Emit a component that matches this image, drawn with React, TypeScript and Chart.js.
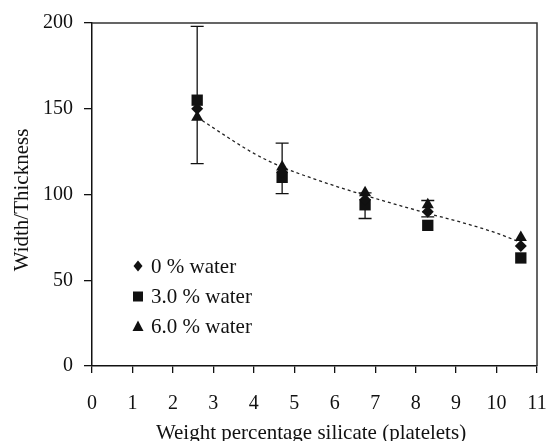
import React, { useEffect, useRef } from "react";
import { Chart, registerables } from "chart.js";

Chart.register(...registerables);

const xValues = [2.6, 4.7, 6.75, 8.3, 10.6];
const water0 = [150, 113, 97, 90, 70];
const water3 = [155, 110, 94, 82, 63];
const water6 = [145, 116, 101, 94, 75];
const errUpper = [198, 130, 101, 96.5, null];
const errLower = [118, 100.5, 86, 87, null];
const trendX = [2.6, 4.0, 4.7, 5.5, 6.75, 8.3, 9.1, 10.0, 10.6];
const trendY = [145, 124, 116, 109, 99.5, 89, 84, 77.5, 72];
const legendLabels = ["0 % water", "3.0 % water", "6.0 % water"];
const xTicks = [0, 1, 2, 3, 4, 5, 6, 7, 8, 9, 10, 11];
const yTicks = [0, 50, 100, 150, 200];
const xTitle = "Weight percentage silicate (platelets)";
const yTitle = "Width/Thickness";

const FONT = "'Liberation Serif', 'Times New Roman', serif";

function drawMarker(ctx: CanvasRenderingContext2D, kind: string, x: number, y: number) {
  ctx.beginPath();
  if (kind === "diamond") {
    ctx.moveTo(x, y - 5.5);
    ctx.lineTo(x + 4.5, y);
    ctx.lineTo(x, y + 5.5);
    ctx.lineTo(x - 4.5, y);
  } else if (kind === "square") {
    ctx.rect(x - 5, y - 5, 10, 10);
  } else {
    ctx.moveTo(x, y - 6);
    ctx.lineTo(x + 5.5, y + 4.5);
    ctx.lineTo(x - 5.5, y + 4.5);
  }
  ctx.closePath();
  ctx.fill();
}

const customPlugin = {
  id: "custom",
  beforeDatasetsDraw(chart: any) {
    const ctx = chart.ctx;
    const xs = chart.scales.x;
    const ys = chart.scales.y;
    ctx.save();
    ctx.strokeStyle = "#111";
    ctx.lineWidth = 1.3;
    xValues.forEach((xv, i) => {
      const hi = errUpper[i];
      const lo = errLower[i];
      if (hi == null || lo == null) return;
      const px = xs.getPixelForValue(xv);
      const py1 = ys.getPixelForValue(hi);
      const py2 = ys.getPixelForValue(lo);
      ctx.beginPath();
      ctx.moveTo(px, py1);
      ctx.lineTo(px, py2);
      ctx.moveTo(px - 6.5, py1);
      ctx.lineTo(px + 6.5, py1);
      ctx.moveTo(px - 6.5, py2);
      ctx.lineTo(px + 6.5, py2);
      ctx.stroke();
    });
    ctx.restore();
  },
  afterDraw(chart: any) {
    const ctx = chart.ctx;
    const a = chart.chartArea;
    ctx.save();
    ctx.strokeStyle = "#333";
    ctx.lineWidth = 1.5;
    ctx.beginPath();
    ctx.moveTo(a.left, a.top);
    ctx.lineTo(a.right, a.top);
    ctx.lineTo(a.right, a.bottom);
    ctx.stroke();
    // legend
    const kinds = ["diamond", "square", "triangle"];
    const rowY = [266, 296.5, 326.5];
    ctx.fillStyle = "#111";
    ctx.font = "21px " + FONT;
    ctx.textBaseline = "middle";
    ctx.textAlign = "left";
    legendLabels.forEach((label, i) => {
      drawMarker(ctx, kinds[i], 138, rowY[i]);
      ctx.fillText(label, 151, rowY[i] + 1);
    });
    // axis titles
    ctx.textAlign = "center";
    ctx.textBaseline = "middle";
    ctx.fillText(xTitle, 311, 433);
    ctx.translate(22, 200);
    ctx.rotate(-Math.PI / 2);
    ctx.fillText(yTitle, 0, 0);
    ctx.restore();
  },
};

export default function App() {
  const canvasRef = useRef<HTMLCanvasElement | null>(null);

  useEffect(() => {
    document.body.style.margin = "0";
    const canvas = canvasRef.current;
    if (!canvas) return;
    const pts = (ys: number[]) => xValues.map((x, i) => ({ x, y: ys[i] }));
    const chart = new Chart(canvas, {
      type: "scatter",
      data: {
        datasets: [
          {
            label: legendLabels[0],
            data: pts(water0),
            pointStyle: "rectRot",
            pointRadius: 6,
            backgroundColor: "#111",
            borderColor: "#111",
            borderWidth: 0,
          },
          {
            label: legendLabels[2],
            data: pts(water6),
            pointStyle: "triangle",
            pointRadius: 7,
            backgroundColor: "#111",
            borderColor: "#111",
            borderWidth: 0,
          },
          {
            label: legendLabels[1],
            data: pts(water3),
            pointStyle: "rect",
            pointRadius: 8,
            backgroundColor: "#111",
            borderColor: "#111",
            borderWidth: 0,
          },
          {
            label: "trend",
            type: "line",
            data: trendX.map((x, i) => ({ x, y: trendY[i] })),
            showLine: true,
            pointRadius: 0,
            borderColor: "#222",
            borderWidth: 1.3,
            borderDash: [3, 3],
            cubicInterpolationMode: "monotone",
            fill: false,
          } as any,
        ],
      },
      options: {
        animation: false,
        responsive: false,
        maintainAspectRatio: false,
        layout: { padding: { left: 0, top: 20, right: 14, bottom: 0 } },
        plugins: {
          legend: { display: false },
          tooltip: { enabled: false },
        },
        scales: {
          x: {
            type: "linear",
            min: 0,
            max: 11,
            afterFit: (s: any) => {
              s.height = 75;
              s.paddingLeft = 0;
              s.paddingRight = 0;
            },
            afterBuildTicks: (s: any) => {
              s.ticks = xTicks.map((v) => ({ value: v }));
            },
            grid: {
              drawOnChartArea: false,
              drawTicks: true,
              tickLength: 7,
              color: "#111",
              lineWidth: 1.3,
            },
            border: { display: true, color: "#111", width: 1.5 },
            ticks: {
              color: "#111",
              font: { family: FONT, size: 20 },
              padding: 19,
              maxRotation: 0,
            },
          },
          y: {
            type: "linear",
            min: 0,
            max: 200,
            afterFit: (s: any) => {
              s.width = 92;
            },
            afterBuildTicks: (s: any) => {
              s.ticks = yTicks.map((v) => ({ value: v }));
            },
            grid: {
              drawOnChartArea: false,
              drawTicks: true,
              tickLength: 8,
              color: "#111",
              lineWidth: 1.3,
            },
            border: { display: true, color: "#111", width: 1.5 },
            ticks: {
              color: "#111",
              font: { family: FONT, size: 20 },
              padding: 11,
            },
          },
        },
      },
      plugins: [customPlugin],
    });
    return () => chart.destroy();
  }, []);

  return (
    <div style={{ width: 551, height: 441, position: "relative" }}>
      <canvas ref={canvasRef} width={551} height={441} style={{ display: "block" }} />
    </div>
  );
}
